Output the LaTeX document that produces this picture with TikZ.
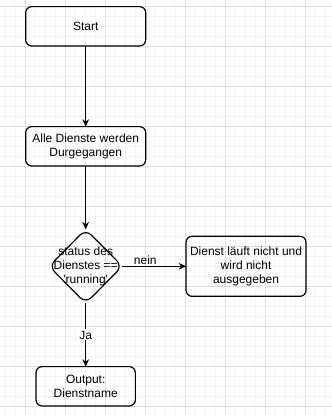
\documentclass[tikz,border=0pt]{standalone}
\usepackage{fontspec}
\newfontfamily\flowfont{Liberation Sans}
\usepackage{xcolor}
\usetikzlibrary{arrows.meta}
\usetikzlibrary{positioning}
\usetikzlibrary{shapes.geometric}

\definecolor{gridmajor}{HTML}{DEDEDE}
\definecolor{gridminor}{HTML}{F4F4F4}

\begin{document}
\begin{tikzpicture}[>={Stealth[length=5.5pt,width=5pt]}, x=0.75pt, y=-0.75pt,
		box/.style={draw, line width=0.9pt, rounded corners=4.5pt, align=center, inner sep=2pt, outer sep=0pt, font=\flowfont\fontsize{9pt}{10.5pt}\selectfont},
		rhomb/.style={diamond, draw, line width=0.9pt, rounded corners=6pt, inner sep=0pt, outer sep=0pt, minimum width=55pt, minimum height=55.5pt},
		txt/.style={align=center, inner sep=1pt, font=\flowfont\fontsize{9pt}{10.5pt}\selectfont}]
		\useasboundingbox (0,0) rectangle (332,415);
		% background grid
		\foreach \x in {5,15,...,325} \draw[gridminor, line width=0.75pt] (\x,0) -- (\x,415);
		\foreach \y in {6,16,...,406} \draw[gridminor, line width=0.75pt] (0,\y) -- (332,\y);
		\foreach \x in {25,65,...,305} \draw[gridmajor, line width=0.75pt] (\x,0) -- (\x,415);
		\foreach \y in {6,46,...,406} \draw[gridmajor, line width=0.75pt] (0,\y) -- (332,\y);

		% flow
		\node (start) [box, minimum width=90pt, minimum height=29.5pt] at (85.7,26.3) {Start};
		\node (loop) [box, minimum width=90pt, minimum height=29.5pt, below=60.5pt of start] {Alle Dienste werden\\Durgegangen};
		\node (check) [rhomb, below=47.5pt of loop] {};
		\node (checktxt) [txt] at (check) {status des\\Dienstes ==\\'running'};
		\node (skip) [box, minimum width=90pt, minimum height=45pt, right=47.75pt of check] {Dienst läuft nicht und\\wird nicht\\ausgegeben};
		\node (output) [box, minimum width=74.5pt, minimum height=29.5pt, below=47.5pt of check] {Output:\\Dienstname};

		\draw[->, line width=0.9pt] (start) -- (loop);
		\draw[->, line width=0.9pt] (loop) -- (check);
		\draw[->, line width=0.9pt] (check) -- node[txt, above, pos=0.36] {nein} (skip);
		\draw[->, line width=0.9pt] (check) -- node[txt, fill=white] {Ja} (output);
	\end{tikzpicture}
\end{document}
